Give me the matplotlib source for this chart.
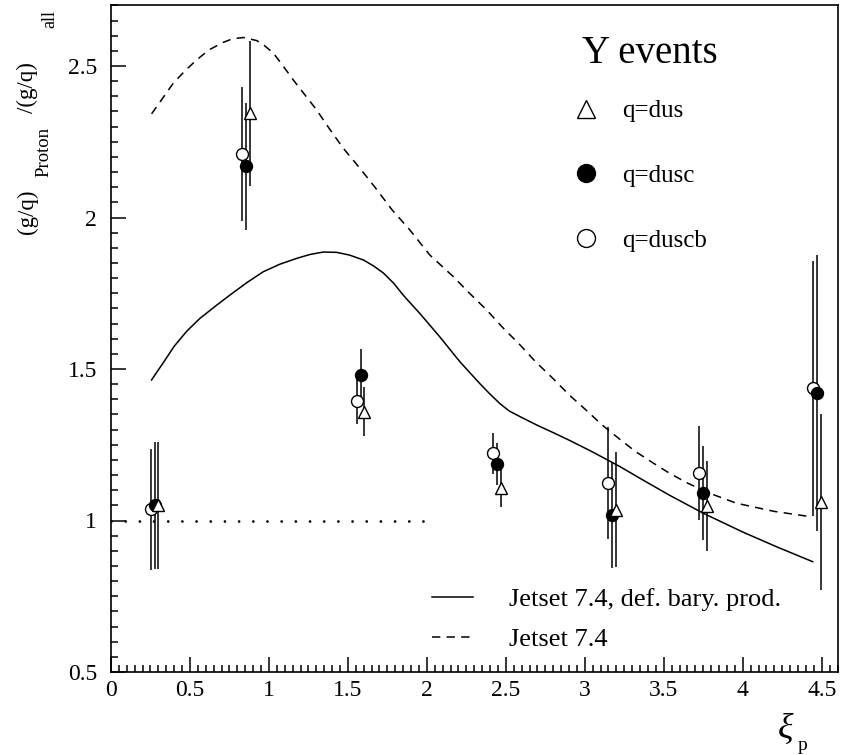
import matplotlib
matplotlib.use('Agg')
import matplotlib.pyplot as plt
from matplotlib.ticker import MultipleLocator, FuncFormatter

plt.rcParams['font.family'] = ['Liberation Serif', 'DejaVu Serif']
plt.rcParams['mathtext.fontset'] = 'custom'
plt.rcParams['mathtext.rm'] = 'Liberation Serif'
plt.rcParams['mathtext.it'] = 'Liberation Serif:italic'
plt.rcParams['lines.scale_dashes'] = False

# ---------------- data ----------------
x_dus = [0.300, 0.878, 1.601, 2.468, 3.196, 3.772, 4.494]
y_dus = [1.050, 2.344, 1.359, 1.106, 1.035, 1.048, 1.062]
e_dus = [0.210, 0.240, 0.080, 0.063, 0.190, 0.150, 0.290]

x_dusc = [0.278, 0.855, 1.582, 2.447, 3.170, 3.747, 4.472]
y_dusc = [1.050, 2.169, 1.480, 1.187, 1.017, 1.091, 1.420]
e_dusc = [0.210, 0.210, 0.085, 0.070, 0.173, 0.156, 0.455]

x_duscb = [0.253, 0.830, 1.555, 2.420, 3.146, 3.720, 4.445]
y_duscb = [1.037, 2.210, 1.395, 1.222, 1.124, 1.158, 1.436]
e_duscb = [0.200, 0.220, 0.077, 0.068, 0.186, 0.155, 0.420]

# Jetset 7.4, default baryon production (solid)
x_def = [0.257, 0.33, 0.40, 0.48, 0.563, 0.66, 0.753, 0.86, 0.964, 1.07, 1.175,
         1.26, 1.344, 1.428, 1.51, 1.597, 1.66, 1.724, 1.79, 1.85, 1.90, 1.956,
         2.082, 2.209, 2.335, 2.40, 2.462, 2.52, 2.589, 2.70, 2.80, 2.905, 3.05,
         3.222, 3.38, 3.538, 3.75, 4.00, 4.22, 4.443]
y_def = [1.464, 1.520, 1.575, 1.625, 1.667, 1.707, 1.744, 1.785, 1.821, 1.846, 1.865,
         1.878, 1.886, 1.885, 1.876, 1.860, 1.841, 1.817, 1.783, 1.744, 1.715, 1.683,
         1.606, 1.524, 1.452, 1.417, 1.386, 1.362, 1.343, 1.314, 1.290, 1.264, 1.226,
         1.178, 1.130, 1.083, 1.024, 0.962, 0.912, 0.864]

# Jetset 7.4 (dashed)
x_jet = [0.257, 0.394, 0.47, 0.542, 0.62, 0.711, 0.77, 0.838, 0.922, 0.97, 1.027,
         1.09, 1.154, 1.22, 1.302, 1.38, 1.47, 1.58, 1.68, 1.78, 1.892, 2.019,
         2.167, 2.27, 2.378, 2.48, 2.589, 2.69, 2.80, 2.90, 3.011, 3.11, 3.222,
         3.32, 3.432, 3.53, 3.644, 3.80, 3.96, 4.20, 4.424]
y_jet = [2.342, 2.443, 2.485, 2.520, 2.553, 2.578, 2.590, 2.594, 2.584, 2.568, 2.543,
         2.500, 2.454, 2.410, 2.355, 2.295, 2.229, 2.160, 2.094, 2.025, 1.959, 1.876,
         1.805, 1.750, 1.695, 1.637, 1.580, 1.523, 1.468, 1.415, 1.363, 1.315, 1.268,
         1.228, 1.190, 1.158, 1.125, 1.088, 1.057, 1.030, 1.013]

ref_x = [0.0, 2.0]
ref_y = [1.0, 1.0]

x_ticks = [0, 0.5, 1, 1.5, 2, 2.5, 3, 3.5, 4, 4.5]
y_ticks = [0.5, 1, 1.5, 2, 2.5]

# ---------------- figure ----------------
W, H = 863, 755
fig = plt.figure(figsize=(W / 100, H / 100), dpi=100)
ax = fig.add_axes([111 / W, 1 - 672 / H, (837.5 - 111) / W, (672 - 5.4) / H])
ax.set_xlim(0, 4.6)
ax.set_ylim(0.5, 2.7)

lw = 1.1
# reference line
ax.plot(ref_x, ref_y, color='black', lw=2.0, linestyle=(0, (0.01, 10.2)),
        dash_capstyle='round', solid_capstyle='round')
# model curves
l_def, = ax.plot(x_def, y_def, color='black', lw=lw)
l_jet, = ax.plot(x_jet, y_jet, color='black', lw=lw, linestyle=(0, (6, 4.5)))

ms = 8.6
ax.errorbar(x_duscb, y_duscb, yerr=e_duscb, fmt='none', ecolor='black', elinewidth=lw, capsize=0)
ax.errorbar(x_dusc, y_dusc, yerr=e_dusc, fmt='none', ecolor='black', elinewidth=lw, capsize=0)
ax.errorbar(x_dus, y_dus, yerr=e_dus, fmt='none', ecolor='black', elinewidth=lw, capsize=0)
p_duscb, = ax.plot(x_duscb, y_duscb, 'o', ms=ms, mfc='white', mec='black', mew=1.0, ls='none')
p_dusc, = ax.plot(x_dusc, y_dusc, 'o', ms=ms, mfc='black', mec='black', mew=1.0, ls='none')
p_dus, = ax.plot(x_dus, y_dus, '^', ms=ms + 0.5, mfc='white', mec='black', mew=1.0, ls='none')

# ticks
ax.set_xticks(x_ticks)
ax.set_yticks(y_ticks)
ax.xaxis.set_minor_locator(MultipleLocator(0.05))
ax.yaxis.set_minor_locator(MultipleLocator(0.05))
fmt = FuncFormatter(lambda v, p: '%g' % v)
ax.xaxis.set_major_formatter(fmt)
ax.yaxis.set_major_formatter(fmt)
ax.tick_params(which='both', direction='in', top=False, right=False, width=1.1, labelsize=17)
ax.tick_params(which='major', length=11)
ax.tick_params(which='minor', length=5)
ax.tick_params(axis='y', pad=10)
ax.tick_params(axis='x', pad=6)
for s in ax.spines.values():
    s.set_linewidth(1.2)

# legends
fig.text(582 / W, 1 - 63 / H, 'Y events', ha='left', va='baseline', fontsize=28)
leg1 = ax.legend([p_dus, p_dusc, p_duscb], ['q=dus', 'q=dusc', 'q=duscb'],
                 fontsize=18, frameon=False,
                 loc='upper left', bbox_to_anchor=(573 / W, 1 - 100 / H),
                 bbox_transform=fig.transFigure, borderpad=0, borderaxespad=0,
                 labelspacing=1.68, handlelength=1.0, handletextpad=0.95,
                 markerscale=1.5)
ax.add_artist(leg1)
ax.legend([l_def, l_jet], ['Jetset 7.4, def. bary. prod.', 'Jetset 7.4'],
          fontsize=19, frameon=False, loc='upper left',
          bbox_to_anchor=(432 / W, 1 - 588 / H), bbox_transform=fig.transFigure,
          borderpad=0, borderaxespad=0, labelspacing=0.62, handlelength=1.55,
          handletextpad=1.35)

# axis labels (placed pieces, as in the original)
fig.text(27 / W, 1 - 212 / H, '(g/q)', rotation=90, ha='center', va='center', fontsize=16.5)
fig.text(44 / W, 1 - 152 / H, 'Proton', rotation=90, ha='center', va='center', fontsize=13.5)
fig.text(27 / W, 1 - 88 / H, '/(g/q)', rotation=90, ha='center', va='center', fontsize=16.5)
fig.text(50 / W, 1 - 19 / H, 'all', rotation=90, ha='center', va='center', fontsize=13)

fig.text(786 / W, 1 - 728 / H, r'$\xi$', ha='center', va='center', fontsize=26)
fig.text(802 / W, 1 - 745 / H, 'p', ha='center', va='center', fontsize=14)

fig.savefig('out.png', dpi=100)
